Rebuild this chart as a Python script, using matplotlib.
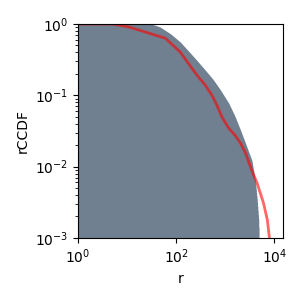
import numpy as np
import matplotlib
matplotlib.use("Agg")
import matplotlib.pyplot as plt

# gray region boundary (empirical rCCDF)
gray_r = [1, 31.6, 46.8, 75.9, 120, 178, 263, 389, 575, 794, 1175, 1585, 2042,
          2570, 3020, 3467, 4074, 4467, 4786, 4898]
gray_p = [1.0, 1.0, 0.908, 0.731, 0.562, 0.417, 0.309, 0.226, 0.164, 0.119, 0.0776,
          0.0501, 0.0324, 0.0214, 0.0158, 0.0123, 0.00646, 0.00339, 0.00178, 0.001]

# red fitted line
red_r = [1, 5.13, 11.5, 60.3, 120, 209, 282, 389, 537, 676, 851, 1175, 1585, 2042,
         2570, 3467, 4467, 6026, 7244, 7943]
red_p = [1.0, 1.0, 0.899, 0.631, 0.407, 0.240, 0.182, 0.140, 0.1, 0.0731, 0.0501,
         0.0347, 0.0275, 0.0214, 0.0158, 0.0089, 0.00589, 0.00309, 0.00178, 0.00102]

fig = plt.figure(figsize=(3, 3), dpi=100)
ax = fig.add_axes([0.26, 0.207, 0.683, 0.713])

lr = np.log10(gray_r)
lp = np.log10(gray_p)
xs = np.logspace(0, np.log10(gray_r[-1]), 600)
ys = 10 ** np.interp(np.log10(xs), lr, lp)
ax.fill_between(xs, 1e-4, ys, step='post', color='slategray', linewidth=0,
                antialiased=False)
ax.plot(red_r, red_p, color='red', alpha=0.6, linewidth=2, solid_joinstyle='round')

ax.set_xscale('log')
ax.set_yscale('log')
ax.set_xlim(1, 1.5e4)
ax.set_ylim(1e-3, 1)
ax.set_xlabel('r')
ax.set_ylabel('rCCDF')
fig.savefig('out.png', dpi=100)
